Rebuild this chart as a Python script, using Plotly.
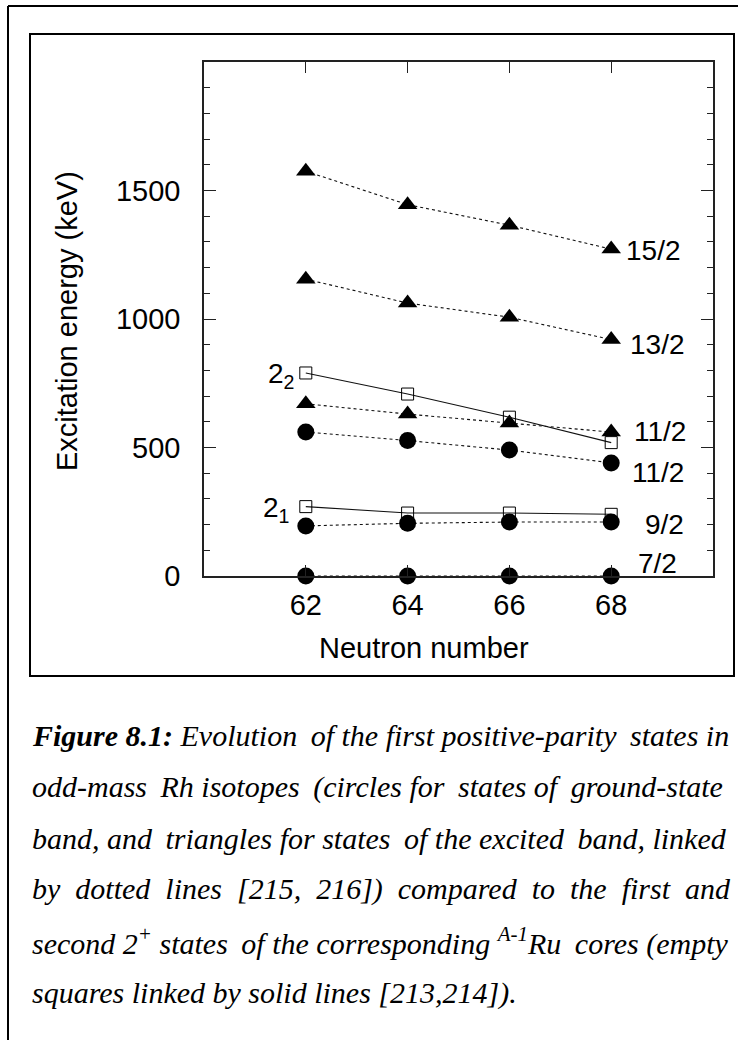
import plotly.graph_objects as go

# Neutron numbers of the odd-mass Rh isotopes
neutrons = [62, 64, 66, 68]

# Excited band of Rh (triangles), keV
tri_15_2 = [1575, 1445, 1365, 1272]
tri_13_2 = [1155, 1062, 1007, 920]
tri_11_2 = [670, 630, 595, 560]

# Ground-state band of Rh (circles), keV
circ_11_2 = [560, 527, 490, 440]
circ_9_2 = [195, 205, 210, 210]
circ_7_2 = [0, 0, 0, 0]

# First and second 2+ states of the A-1 Ru cores (open squares), keV
ru_2_2 = [790, 708, 618, 519]
ru_2_1 = [270, 245, 245, 240]

spin_labels = ["15/2", "13/2", "11/2", "11/2", "9/2", "7/2"]
core_labels = ["2<sub>2</sub>", "2<sub>1</sub>"]

y_ticks = [0, 500, 1000, 1500]

caption_lines = [
    "<b>Figure 8.1:</b> Evolution of the first positive-parity states in",
    "odd-mass Rh isotopes (circles for states of ground-state",
    "band, and triangles for states of the excited band, linked",
    "by dotted lines [215, 216]) compared to the first and",
    "second 2<sup>+</sup> states of the corresponding <sup>A-1</sup>Ru cores (empty",
    "squares linked by solid lines [213,214]).",
]
# word-gap padding per line: (no-break spaces in every gap, thin spaces spread over gaps)
caption_pad = [(0, 2), (0, 4), (0, 3), (1, 0), (0, 2), (0, 0)]

# ---- page geometry (pixels) ----
W, H = 738, 1040
PL, PR, PT, PB = 204, 713, 62, 576   # plot-area edges


def px(x):
    return (x - PL) / (PR - PL)


def py(y):
    return (PB - y) / (PB - PT)


def spread(line, wide, thin):
    words = line.split(" ")
    n = len(words) - 1
    picks = {round((i + 0.5) * n / thin - 0.5) for i in range(thin)} if thin else set()
    out = words[0]
    for i, w in enumerate(words[1:]):
        gap = " " + "&nbsp;" * wide + ("&#8201;" if i in picks else "")
        out += gap + w
    return out


SANS = "Liberation Sans, Arial, sans-serif"
SERIF = "Liberation Serif, Times New Roman, serif"

fig = go.Figure()

dotted = dict(color="#111111", width=1.1, dash="3px,3px")
solid = dict(color="#111111", width=1.1)

for vals in (tri_15_2, tri_13_2, tri_11_2):
    fig.add_trace(go.Scatter(
        x=neutrons, y=vals, mode="lines+markers", line=dotted,
        marker=dict(symbol="triangle-up", size=17, color="black"),
        cliponaxis=False, showlegend=False))

for vals in (ru_2_2, ru_2_1):
    fig.add_trace(go.Scatter(
        x=neutrons, y=vals, mode="lines+markers", line=solid,
        marker=dict(symbol="square-open", size=12, color="black",
                    line=dict(width=1)),
        cliponaxis=False, showlegend=False))

for vals in (circ_11_2, circ_9_2, circ_7_2):
    fig.add_trace(go.Scatter(
        x=neutrons, y=vals, mode="lines+markers", line=dotted,
        marker=dict(symbol="circle", size=17, color="black"),
        cliponaxis=False, showlegend=False))

annotations = []

# spin labels beside the N=68 points
spin_series = [tri_15_2, tri_13_2, tri_11_2, circ_11_2, circ_9_2, circ_7_2]
spin_shift = [(72, -1), (76, -5), (77, 1), (75, -10), (75, -2), (68, 13)]
for text, vals, (dx, dy) in zip(spin_labels, spin_series, spin_shift):
    annotations.append(dict(
        x=neutrons[-1], y=vals[-1], xref="x", yref="y", text=text,
        showarrow=False, xanchor="right", yanchor="middle",
        xshift=dx, yshift=dy, font=dict(family=SANS, size=28, color="black")))

# core-state labels left of the N=62 squares
for text, vals, dx in zip(core_labels, [ru_2_2, ru_2_1], [-10, -15]):
    annotations.append(dict(
        x=neutrons[0], y=vals[0], xref="x", yref="y", text=text,
        showarrow=False, xanchor="right", yanchor="middle",
        xshift=dx, yshift=-3, font=dict(family=SANS, size=28, color="black")))

# axis titles
annotations.append(dict(
    x=px(67), y=py(321), xref="paper", yref="paper",
    text="Excitation energy (keV)", textangle=-90, showarrow=False,
    xanchor="center", yanchor="middle",
    font=dict(family=SANS, size=29, color="black")))
annotations.append(dict(
    x=px(424), y=py(648), xref="paper", yref="paper",
    text="Neutron number", showarrow=False,
    xanchor="center", yanchor="middle",
    font=dict(family=SANS, size=29, color="black")))

# caption below the chart box
caption_y = [735, 787, 838, 889, 941, 993]
for line, (wide, thin), yy in zip(caption_lines, caption_pad, caption_y):
    annotations.append(dict(
        x=px(30), y=py(yy), xref="paper", yref="paper",
        text="<i>" + spread(line, wide, thin) + "</i>", showarrow=False,
        xanchor="left", yanchor="middle",
        font=dict(family=SERIF, size=30, color="black")))

shapes = [
    # page frame (top and left edges)
    dict(type="line", xref="paper", yref="paper",
         x0=px(8), x1=px(W + 5), y0=py(6), y1=py(6),
         line=dict(color="black", width=2)),
    dict(type="line", xref="paper", yref="paper",
         x0=px(8), x1=px(8), y0=py(6), y1=py(H + 5),
         line=dict(color="black", width=2)),
    # chart box
    dict(type="rect", xref="paper", yref="paper",
         x0=px(30), x1=px(734), y0=py(34), y1=py(676),
         line=dict(color="black", width=2)),
]

axis_common = dict(
    showline=True, linecolor="#222222", linewidth=1.5, mirror="ticks",
    ticks="inside", tickcolor="#222222", tickwidth=1.2,
    showgrid=False, zeroline=False,
    tickfont=dict(family=SANS, size=29, color="black"),
)

fig.update_layout(
    width=W, height=H,
    margin=dict(l=PL, r=W - PR, t=PT, b=H - PB, pad=0),
    paper_bgcolor="white", plot_bgcolor="white",
    xaxis=dict(range=[60, 70], tickvals=neutrons, ticklen=11,
               ticklabelstandoff=2, **axis_common),
    yaxis=dict(range=[0, 2000], tickvals=y_ticks, ticklen=12,
               ticklabelstandoff=16,
               minor=dict(dtick=100, ticks="inside", ticklen=6,
                          tickcolor="#222222", tickwidth=1.2),
               **axis_common),
    annotations=annotations,
    shapes=shapes,
)

fig.write_html("out.html")
